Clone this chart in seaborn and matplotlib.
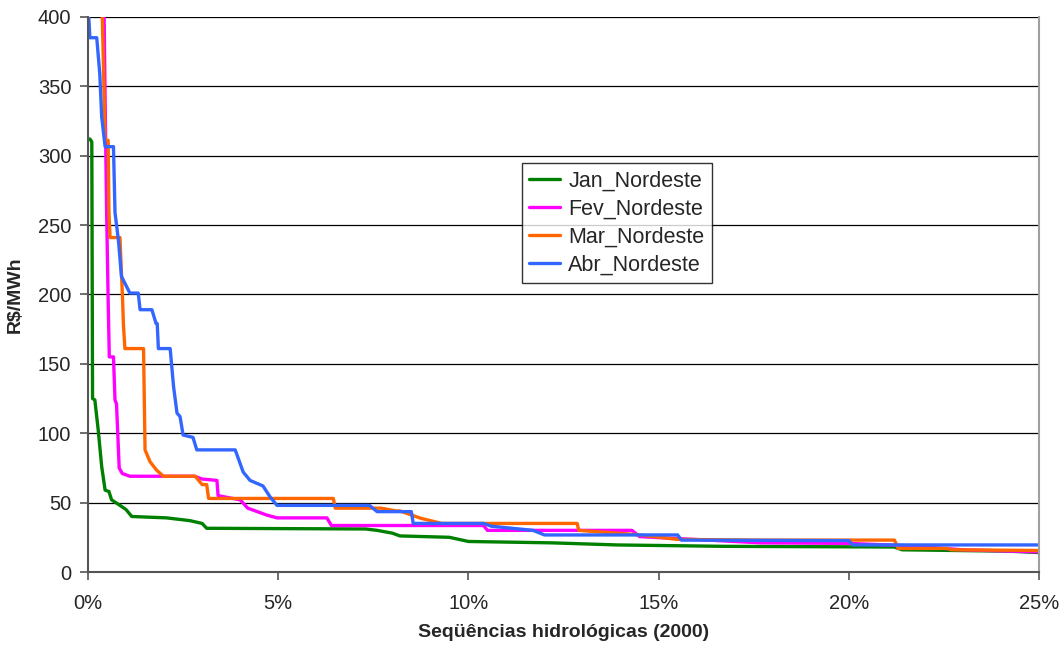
import pandas as pd
import matplotlib
matplotlib.use("Agg")
import matplotlib.pyplot as plt
import matplotlib.ticker as mticker
import seaborn as sns

# DATOS (x en % de las secuencias, y en R$/MWh)
jan_x = [0, 0.05, 0.1, 0.12, 0.18, 0.27, 0.36, 0.45, 0.55, 0.62, 0.84, 1.0, 1.15, 2.07, 2.68, 3.0, 3.12,
         7.3, 7.6, 8.0, 8.2, 9.5, 10.0, 12.2, 13.9, 16.7, 21.2, 21.4, 24.2, 25.0]
jan_y = [312, 312, 310, 125, 124, 102, 76, 59, 58, 52, 48, 45, 40, 39, 37, 35, 31.5,
         31, 30, 28, 26, 25, 22, 21, 19.5, 18.5, 18, 16, 15, 14]

fev_x = [0.42, 0.45, 0.49, 0.53, 0.56, 0.67, 0.71, 0.75, 0.82, 0.9, 1.1, 2.8, 3.0, 3.39, 3.42, 4.0, 4.2,
         4.7, 4.97, 6.28, 6.4, 10.4, 10.5, 14.3, 14.5, 17.7, 20.0, 21.5, 23.0, 25.0]
fev_y = [410, 340, 259, 196, 155, 155, 124, 121, 75, 71, 69, 69, 67, 66, 55, 52, 46,
         41, 39, 39, 33.5, 33.5, 30, 30, 25.5, 21, 20.6, 19, 16, 14.5]

mar_x = [0.36, 0.45, 0.53, 0.55, 0.58, 0.84, 0.91, 0.93, 0.97, 1.46, 1.5, 1.63, 1.8, 1.98, 2.82, 3.0, 3.12,
         3.17, 6.45, 6.5, 7.7, 8.1, 8.2, 8.75, 9.3, 12.86, 12.9, 14.4, 15.5, 17.7, 21.2, 21.3, 22.6, 22.7, 25.0]
mar_y = [420, 311, 311, 260, 241, 241, 196, 179, 161, 161, 88, 79.5, 73.5, 69, 69, 63, 63,
         53, 53, 46, 46, 44, 44, 38.7, 35, 35, 30, 27, 23.5, 23, 23, 17, 17, 16, 15.5]

abr_x = [0, 0.02, 0.05, 0.23, 0.31, 0.36, 0.45, 0.67, 0.71, 0.8, 0.88, 1.1, 1.32, 1.37, 1.68, 1.79, 1.82,
         1.85, 2.16, 2.25, 2.34, 2.42, 2.5, 2.76, 2.86, 3.87, 4.08, 4.26, 4.6, 4.79, 4.97, 7.4, 7.6, 8.5,
         8.55, 10.4, 10.6, 11.7, 12.0, 15.5, 15.6, 20.0, 20.1, 25.0]
abr_y = [420, 400, 385, 385, 359, 328, 306.5, 306.5, 259, 239, 213, 201, 201, 189, 189, 179, 179,
         161, 161, 133.5, 114.5, 112, 98.7, 97, 88, 88, 72, 66, 62, 54, 48, 48, 43.5, 43.5,
         35, 35, 33, 30, 26.7, 26.7, 23, 22.6, 19.5, 19.5]

series = ["Jan_Nordeste", "Fev_Nordeste", "Mar_Nordeste", "Abr_Nordeste"]
colores = ["#008000", "#FF00FF", "#FF6600", "#3366FF"]
datos = [(jan_x, jan_y), (fev_x, fev_y), (mar_x, mar_y), (abr_x, abr_y)]

# VISUALIZACION
sns.set_style("white")
plt.rcParams["font.family"] = ["Liberation Sans", "DejaVu Sans"]

fig = plt.figure(figsize=(10.64, 6.5), dpi=100)
ax = fig.add_axes([0.0827, 0.12, 0.8938, 0.854])

for nombre, color, (xs, ys) in zip(series, colores, datos):
    df = pd.DataFrame({"x": [v / 100 for v in xs], "y": ys})
    sns.lineplot(data=df, x="x", y="y", ax=ax, color=color, linewidth=2.4,
                 label=nombre, sort=False, estimator=None)

ax.set_xlim(0, 0.25)
ax.set_ylim(0, 400)
ax.set_yticks(range(0, 401, 50))
ax.set_xticks([0, 0.05, 0.10, 0.15, 0.20, 0.25])
ax.xaxis.set_major_formatter(mticker.PercentFormatter(xmax=1, decimals=0))
ax.yaxis.grid(True, color="black", linewidth=0.9)
ax.xaxis.grid(False)
ax.set_axisbelow(True)

for lado in ["left", "bottom"]:
    ax.spines[lado].set_color("#555555")
    ax.spines[lado].set_linewidth(1.5)
ax.spines["right"].set_color("#a0a0a0")
ax.spines["right"].set_linewidth(1.5)
ax.spines["top"].set_visible(False)

ax.tick_params(axis="both", which="major", direction="out", length=6, width=1.2,
               color="#555555", labelsize=14.5, left=True, bottom=True)
ax.tick_params(axis="y", pad=6)
ax.tick_params(axis="x", pad=10)

ax.set_xlabel("Seqüências hidrológicas (2000)", fontsize=14, fontweight="bold", labelpad=8)
ax.set_ylabel(r"R\$/MWh", fontsize=14, fontweight="bold", labelpad=10)

leg = ax.legend(loc="upper left", bbox_to_anchor=(0.445, 0.756), fontsize=15.5, frameon=True,
                fancybox=False, edgecolor="black", handlelength=1.4, handletextpad=0.4,
                labelspacing=0.32, borderpad=0.35)
leg.get_frame().set_linewidth(1.0)

plt.savefig("out.png", dpi=100)
